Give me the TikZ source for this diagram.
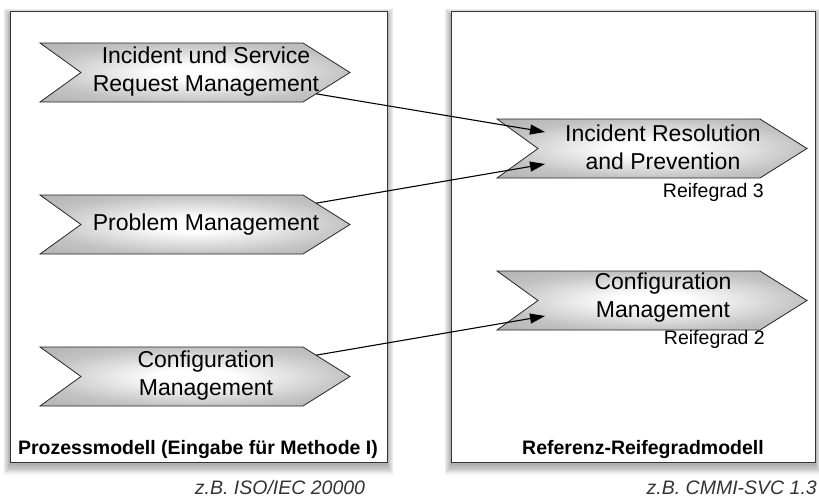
\documentclass[tikz,border=0pt]{standalone}
\usepackage{fontspec}
\setmainfont{Liberation Sans}
\usetikzlibrary{arrows.meta}
\pgfdeclareradialshading{chevshade}{\pgfpoint{0bp}{0bp}}{color(0bp)=(white); color(6bp)=(white); color(25bp)=(black!24); color(50bp)=(black!38)}
\begin{document}
\begin{tikzpicture}[x=1pt,y=-1pt,
  chevshape/.style={draw=black!85, line width=0.8pt, shading=chevshade},
  chevtext/.style={font=\fontsize{23}{28}\selectfont, align=center, inner sep=0pt},
  gradlabel/.style={font=\fontsize{19.5}{23}\selectfont, anchor=east, inner sep=0pt},
  boxlabel/.style={font=\fontsize{19.5}{23}\selectfont\bfseries, inner sep=0pt},
  note/.style={font=\fontsize{19.5}{23}\selectfont\itshape, text=black!80, inner sep=0pt},
  frame/.style={draw=black!80, line width=1pt, fill=white},
  link/.style={line width=1.1pt, -{Triangle[length=15pt,width=10pt]}},
  chev/.pic={
    \path[chevshape] (0,0) -- (263,0) -- (310,29.5) -- (263,59) -- (0,59) -- (41,29.5) -- cycle;
    \coordinate (-lo) at (276,50.8);
    \coordinate (-up) at (276,8.2);
    \coordinate (-inA) at (48,13);
    \coordinate (-inB) at (48,45);
    \coordinate (-mid) at (166,28.5);
  }
]
\useasboundingbox (0,0) rectangle (819,498);

% shadows
\foreach \i in {1,...,8} {
  \fill[black, opacity=0.045] (10-0.8*\i, 15-0.8*\i) rectangle (387+0.8*\i, 465+1.2*\i);
  \fill[black, opacity=0.045] (451-0.8*\i, 15-0.8*\i) rectangle (815+0.8*\i, 465+1.2*\i);
}
% frames
\path[frame] (10,11) rectangle (387,462);
\path[frame] (451,11) rectangle (815,462);

% chevrons
\pic (lc1) at (40,43) {chev};
\pic (lc2) at (40,195) {chev};
\pic (lc3) at (40,347) {chev};
\pic (rc1) at (497,119) {chev};
\pic (rc2) at (497,271) {chev};

\node[chevtext] (t1) at (lc1-mid) {Incident und Service\\Request Management};
\node[chevtext] (t2) at ([yshift=-1pt]lc2-mid) {Problem Management};
\node[chevtext] (t3) at (lc3-mid) {Configuration\\Management};
\node[chevtext] (t4) at (rc1-mid) {Incident Resolution\\and Prevention};
\node[chevtext] (t5) at ([yshift=2pt]rc2-mid) {Configuration\\Management};

\node[gradlabel] (g3) at (764,192) {Reifegrad 3};
\node[gradlabel] (g2) at (765,339) {Reifegrad 2};

\node[boxlabel] (b1) at (198,449) {Prozessmodell (Eingabe für Methode I)};
\node[boxlabel] (b2) at (643,449) {Referenz-Reifegradmodell};

\node[note] (n1) at (280,488) {z.B. ISO/IEC 20000};
\node[note, anchor=east] (n2) at (817,488) {z.B. CMMI-SVC 1.3};

% connectors
\draw[link] (lc1-lo) -- (rc1-inA);
\draw[link] (lc2-up) -- (rc1-inB);
\draw[link] (lc3-up) -- (rc2-inB);
\end{tikzpicture}
\end{document}
